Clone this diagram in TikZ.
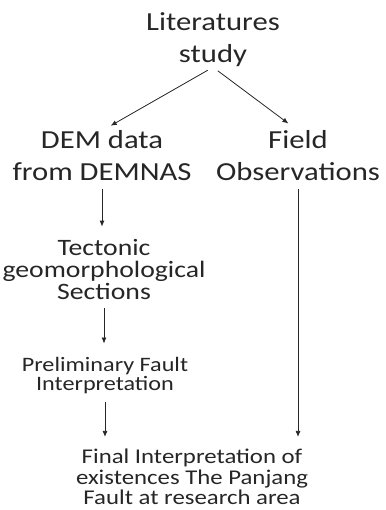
\documentclass[tikz,border=0pt]{standalone}
\usepackage{fontspec}
\setmainfont{Carlito}
\usetikzlibrary{arrows.meta}
\begin{document}
\begin{tikzpicture}[x=1pt,y=1pt,
    every node/.style={align=center,inner sep=0pt,text=black!85,xscale=1.18,transform shape},
    big/.style={font=\fontsize{26}{32}\selectfont},
    mid/.style={font=\fontsize{23.5}{22}\selectfont},
    arr/.style={draw=black!85,line width=0.8pt,-{Latex[length=6pt,width=5pt]}}]
    \useasboundingbox (0,0) rectangle (385,510);

    \node[big] (lit) at (213,470) {Literatures\\study};
    \node[big] (dem) at (102,354) {DEM data\\from DEMNAS};
    \node[big] (field) at (298,354) {Field\\Observations};
    \node[mid] (tect) at (104,240) {Tectonic\\geomorphological\\Sections};
    \node[font=\fontsize{20.5}{19}\selectfont] (prelim) at (105,134) {Preliminary Fault\\Interpretation};
    \node[font=\fontsize{21}{20.5}\selectfont] (final) at (192,33) {Final Interpretation of\\existences The Panjang\\Fault at research area};

    \draw[arr,shorten <=6pt,shorten >=10pt] (lit.south) -- (dem.north);
    \draw[arr,shorten <=6pt,shorten >=12pt] (lit.south) -- (field.north);
    \draw[arr,shorten <=8pt,shorten >=13pt] (dem.south) -- (dem.south |- tect.north);
    \draw[arr,shorten <=8pt,shorten >=14pt] (tect.south) -- (tect.south |- prelim.north);
    \draw[arr,shorten <=8pt,shorten >=12pt] (prelim.south) -- (prelim.south |- final.north);
    \draw[arr,shorten <=8pt,shorten >=12pt] (field.south) -- (field.south |- final.north);
\end{tikzpicture}
\end{document}
